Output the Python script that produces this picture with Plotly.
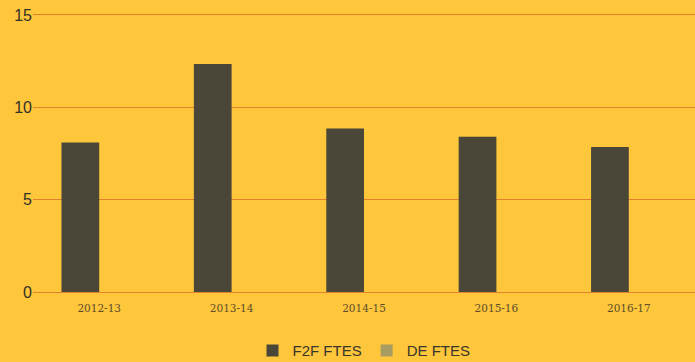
import plotly.graph_objects as go

categories = ["2012-13", "2013-14", "2014-15", "2015-16", "2016-17"]
f2f_ftes = [8.1, 12.35, 8.85, 8.4, 7.85]
de_ftes = [0, 0, 0, 0, 0]
y_ticks = [0, 5, 10, 15]

bg = "#FDC63B"
fig = go.Figure()
fig.add_trace(go.Bar(name="F2F FTES", x=categories, y=f2f_ftes,
                     marker=dict(color="#4A4638", line=dict(width=0))))
fig.add_trace(go.Bar(name="DE FTES", x=categories, y=de_ftes,
                     marker=dict(color="#A99C60", line=dict(width=0))))

fig.update_layout(
    width=695, height=362,
    margin=dict(l=33, r=0, t=10, b=70, autoexpand=False),
    paper_bgcolor=bg, plot_bgcolor=bg,
    barmode="group", bargap=0.43, bargroupgap=0,
    showlegend=True,
    legend=dict(orientation="h", x=0.5, xanchor="center", y=-0.15, yanchor="top",
                font=dict(family="Liberation Sans, Arial", size=15, color="#3A352C"),
                itemwidth=30, traceorder="normal", tracegroupgap=0),
    xaxis=dict(showgrid=False, showline=False, zeroline=False, ticks="",
               tickfont=dict(family="DejaVu Serif, Liberation Serif, serif", size=10.5, color="#5F4C2C"),
               ticklabelstandoff=8),
    yaxis=dict(range=[0, 15.27], tickvals=y_ticks, showgrid=True, gridcolor="#E3802E",
               gridwidth=1, zeroline=True, zerolinecolor="#E3802E", zerolinewidth=1,
               showline=False, ticks="",
               tickfont=dict(family="Liberation Sans, Arial", size=16, color="#33302A")),
)
fig.write_html("out.html")
